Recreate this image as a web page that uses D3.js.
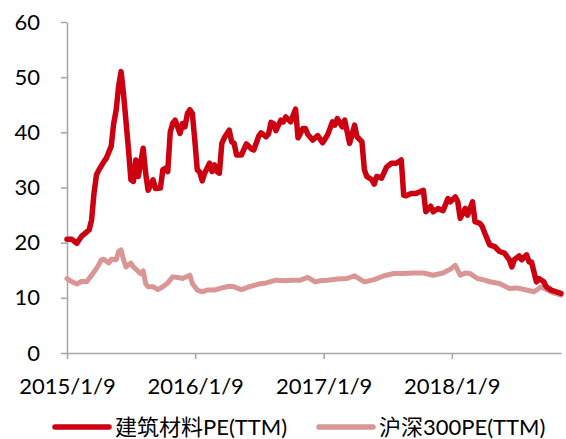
<!DOCTYPE html>
<html>

<head>
    <meta charset="utf-8">
    <style>
        body {
            margin: 0;
            background: #fff;
        }

        text {
            font-family: Lato, "Noto Sans CJK SC", sans-serif;
            font-size: 22px;
            fill: #000;
        }

        .axis path,
        .axis line {
            stroke: #a6a6a6;
            stroke-width: 1.5px;
        }

        .line {
            fill: none;
            stroke-linejoin: round;
            stroke-linecap: round;
        }
    </style>
</head>

<body>
    <script src="https://cdn.jsdelivr.net/npm/d3@7"></script>
    <script>
        // weekly data, first week is 2015/1/9
        var startDate = "2015/1/9";
        var tickLabels = ["2015/1/9", "2016/1/9", "2017/1/9", "2018/1/9"];
        var yTicks = [0, 10, 20, 30, 40, 50, 60];
        var seriesNames = ["建筑材料PE(TTM)", "沪深300PE(TTM)"];

        // 建筑材料 PE(TTM): week number and value
        var bmWeeks = [0, 2, 4, 6, 9, 10, 11, 12, 13, 15, 16, 18, 19, 20, 21, 22, 23, 24, 25, 26, 27, 28, 29, 31, 32,
            33, 35, 36, 38, 39, 40, 41, 42, 43, 44, 46, 47, 48, 49, 50, 51, 52, 53, 54, 55, 56, 58, 59, 60, 61, 62,
            63, 64, 66, 67, 68, 69, 71, 73, 75, 76, 78, 79, 81, 82, 83, 84, 85, 87, 88, 89, 91, 93, 94, 96, 97, 98,
            100, 102, 104, 106, 108, 109, 110, 112, 113, 115, 117, 118, 120, 121, 122, 124, 125, 126, 128, 130, 132,
            134, 136, 137, 138, 140, 142, 145, 146, 148, 149, 151, 153, 155, 156, 158, 159, 160, 162, 163, 165, 166,
            168, 169, 170, 172, 174, 176, 178, 180, 181, 182, 184, 185, 187, 188, 189, 191, 192, 194, 195, 197, 199, 201];
        var bmPE = [20.6, 20.6, 19.9, 21.2, 22.3, 24.1, 29.0, 32.3, 33.2, 34.7, 35.3, 37.5, 41.6, 44.0, 48.3, 51.0, 47.0,
            42.0, 37.0, 31.4, 31.1, 35.0, 32.0, 37.1, 32.6,
            29.5, 31.4, 29.8, 29.9, 33.2, 33.5, 32.9, 40.0, 41.6, 42.2, 39.8, 41.6, 41.0, 43.4, 44.1, 43.4, 38.6, 33.2, 32.8, 31.2, 32.6, 34.4, 32.9, 34.1, 32.9, 32.6,
            38.0, 39.0, 40.4, 38.3, 38.0, 35.9, 35.9, 37.9, 37.0, 36.8, 39.3, 39.9, 39.2, 39.7, 41.8, 41.6, 40.3, 42.2, 41.9, 42.8, 41.9, 44.2, 39.0, 40.7, 40.7, 39.6,
            38.6, 39.4, 38.1, 39.5, 41.9, 41.3, 42.5, 41.0, 42.2, 38.0, 41.3, 39.2, 38.3, 33.2, 32.0, 31.4, 30.6, 32.0, 31.7, 33.7, 34.4,
            34.4, 35.0, 28.6, 28.5, 28.9, 28.9, 29.5, 25.6, 26.6, 25.6, 26.2, 25.8, 28.0, 27.4, 28.3, 27.4, 24.4, 26.2, 25.0, 27.4, 23.8,
            23.5, 22.9, 21.7, 19.6, 19.3, 18.4, 18.1, 16.9, 15.6, 16.9, 17.6, 16.9, 17.8, 16.5, 16.5, 12.9, 13.5, 12.9, 12.0, 11.4, 11.1, 10.8];

        // 沪深300 PE(TTM): week number and value
        var hsWeeks = [0, 2, 4, 6, 8, 10, 12, 14, 15, 17, 18, 20, 21, 22, 23, 24, 26, 27, 28, 30, 31, 32, 33, 35, 37,
            39, 41, 43, 45, 47, 50, 51, 53, 55, 57, 60, 63, 66, 68, 71, 74, 78, 81, 85, 89, 91, 95, 98, 101, 103, 106,
            110, 114, 117, 121, 125, 129, 133, 137, 141, 145, 149, 153, 156, 158, 160, 162, 164, 167, 170, 172, 176,
            180, 183, 186, 190, 193, 195, 198, 201];
        var hsPE = [13.5, 12.9, 12.5, 13.0, 12.9, 14.1, 15.3, 16.9, 17.0, 16.3, 17.0, 16.9, 18.4, 18.7, 16.9, 15.6, 16.3,
            15.6, 15.2, 14.4, 14.9, 12.6, 12.0, 12.0, 11.5,
            12.0, 12.7, 13.8, 13.7, 13.5, 14.1, 12.6, 11.4, 11.1, 11.4, 11.4, 11.8, 12.1, 12.0, 11.5, 12.0, 12.5, 12.7, 13.2, 13.1, 13.2, 13.2, 13.7, 12.9, 13.1, 13.2,
            13.4, 13.5, 14.0, 12.9, 13.3, 14.0, 14.4, 14.4, 14.5, 14.5, 14.1, 14.5, 15.2, 15.9, 14.1, 14.5, 14.4, 13.5, 13.2, 12.9, 12.6,
            11.7, 11.8, 11.5, 11.1, 12.0, 11.5, 10.9, 10.5];

        var colors = ["#cc0011", "#d99694"];

        var margin = { top: 22, right: 5, bottom: 86, left: 67 },
            width = 566 - margin.left - margin.right,
            height = 439 - margin.top - margin.bottom;

        var parseTime = d3.timeParse("%Y/%m/%d");
        var start = parseTime(startDate);

        function toPoints(weeks, values) {
            return weeks.map(function (w, i) {
                return { date: d3.timeDay.offset(start, w * 7), value: values[i] };
            });
        }

        var series = [toPoints(bmWeeks, bmPE), toPoints(hsWeeks, hsPE)];

        var x = d3.scaleTime()
            .domain(d3.extent(series[0], function (d) { return d.date; }))
            .range([0, width]);
        var y = d3.scaleLinear().domain([0, 60]).range([height, 0]);

        var line = d3.line()
            .x(function (d) { return x(d.date); })
            .y(function (d) { return y(d.value); });

        var svg = d3.select("body").append("svg")
            .attr("width", width + margin.left + margin.right)
            .attr("height", height + margin.top + margin.bottom)
            .append("g")
            .attr("transform", "translate(" + margin.left + "," + margin.top + ")");

        // axes
        svg.append("g")
            .attr("class", "axis")
            .call(d3.axisLeft(y).tickValues(yTicks).tickSize(6).tickSizeOuter(0).tickPadding(21));

        svg.append("g")
            .attr("class", "axis")
            .attr("transform", "translate(0," + height + ")")
            .call(d3.axisBottom(x)
                .tickValues(tickLabels.map(parseTime))
                .tickFormat(function (d, i) { return tickLabels[i]; })
                .tickSize(6).tickSizeOuter(0).tickPadding(19));

        d3.selectAll(".axis").attr("font-family", null).attr("font-size", null);

        // lines, the index line drawn first so the sector line sits on top
        [1, 0].forEach(function (k) {
            svg.append("path")
                .datum(series[k])
                .attr("class", "line")
                .attr("stroke", colors[k])
                .attr("stroke-width", k === 0 ? 5.5 : 5)
                .attr("d", line);
        });

        // legend
        var legendX = [-12, 252];
        var legend = svg.selectAll(".legend")
            .data(seriesNames)
            .enter().append("g")
            .attr("class", "legend")
            .attr("transform", function (d, i) { return "translate(" + legendX[i] + "," + (height + 74) + ")"; });

        legend.append("line")
            .attr("x1", 0).attr("x2", 54)
            .attr("stroke", function (d, i) { return colors[i]; })
            .attr("stroke-width", 5.5)
            .attr("stroke-linecap", "round");

        legend.append("text")
            .attr("x", 60)
            .attr("dy", "0.35em")
            .text(function (d) { return d; });
    </script>
</body>

</html>
